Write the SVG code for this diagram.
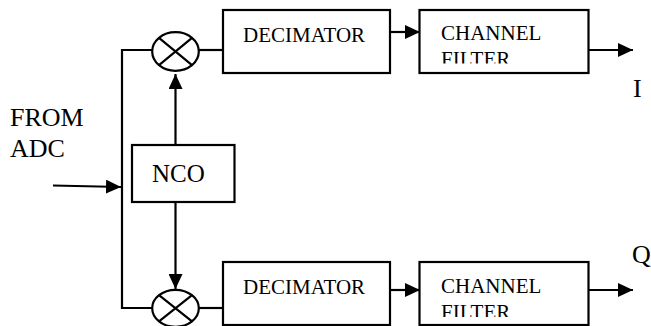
<svg xmlns="http://www.w3.org/2000/svg" width="651" height="326" viewBox="0 0 651 326">
  <style>
    .box { fill: #fff; stroke: #000; stroke-width: 2.2; }
    .wire { fill: none; stroke: #000; stroke-width: 2.2; }
    .mix { fill: #fff; stroke: #000; stroke-width: 2.2; }
    .lbl { fill: #000; }
    .blk { font-size: 21px; }
    .big { font-size: 26px; }
  </style>
  <defs>
    <marker id="arrow" viewBox="0 0 15 14" refX="15" refY="7" markerWidth="15" markerHeight="14" markerUnits="userSpaceOnUse" orient="auto">
      <path d="M0,0 L15,7 L0,14 Z" fill="#000"/>
    </marker>
    <clipPath id="clipTop"><rect x="419" y="10" width="170" height="53.5"/></clipPath>
    <clipPath id="clipBot"><rect x="419" y="262" width="170" height="55"/></clipPath>
  </defs>

  <rect width="651" height="326" fill="#fff"/>

  <!-- connectors -->
  <g id="connectors">
    <!-- input into the splitter bus -->
    <line class="wire" x1="53" y1="185.5" x2="121" y2="187" marker-end="url(#arrow)"/>
    <!-- splitter bus to both mixers -->
    <polyline class="wire" points="152,50 122,50 122,308 152,308"/>
    <!-- mixers to decimators -->
    <line class="wire" x1="198" y1="50" x2="223" y2="50"/>
    <line class="wire" x1="198" y1="308" x2="223" y2="308"/>
    <!-- NCO to mixers -->
    <line class="wire" x1="175.5" y1="145" x2="175.5" y2="74" marker-end="url(#arrow)"/>
    <line class="wire" x1="175.5" y1="202" x2="175.5" y2="289" marker-end="url(#arrow)"/>
    <!-- decimators to channel filters -->
    <line class="wire" x1="390" y1="32" x2="420" y2="32" marker-end="url(#arrow)"/>
    <line class="wire" x1="390" y1="290" x2="420" y2="290" marker-end="url(#arrow)"/>
    <!-- outputs -->
    <line class="wire" x1="588" y1="50" x2="633" y2="50" marker-end="url(#arrow)"/>
    <line class="wire" x1="588" y1="290" x2="633" y2="290" marker-end="url(#arrow)"/>
  </g>

  <g id="mixer-i">
    <ellipse class="mix" cx="175.5" cy="51.5" rx="23.3" ry="19.3"/>
    <path class="wire" d="M159,37.9 L192,65.1 M192,37.9 L159,65.1"/>
  </g>

  <g id="mixer-q">
    <ellipse class="mix" cx="175.5" cy="308.3" rx="23.3" ry="18.5"/>
    <path class="wire" d="M159,295.2 L192,321.4 M192,295.2 L159,321.4"/>
  </g>

  <g font-family="'Liberation Serif', 'Times New Roman', 'DejaVu Serif', serif">
    <g id="nco">
      <rect class="box" x="132" y="145" width="102.5" height="57"/>
      <text class="lbl" x="152" y="182" font-size="25">NCO</text>
    </g>

    <g id="decimator-i">
      <rect class="box" x="223" y="10" width="167" height="63"/>
      <text class="lbl blk" x="243" y="41.5">DECIMATOR</text>
    </g>

    <g id="decimator-q">
      <rect class="box" x="223" y="262" width="167" height="63"/>
      <text class="lbl blk" x="243" y="293.5">DECIMATOR</text>
    </g>

    <g id="channel-filter-i">
      <rect class="box" x="419.5" y="10" width="169" height="63"/>
      <text class="lbl blk" x="441" y="40">CHANNEL</text>
      <text class="lbl blk" x="441" y="66" clip-path="url(#clipTop)">FILTER</text>
    </g>

    <g id="channel-filter-q">
      <rect class="box" x="419.5" y="262" width="169" height="63"/>
      <text class="lbl blk" x="441" y="293">CHANNEL</text>
      <text class="lbl blk" x="441" y="319" clip-path="url(#clipBot)">FILTER</text>
    </g>

    <g id="labels">
      <text class="lbl big" x="10" y="126">FROM</text>
      <text class="lbl big" x="10" y="156.5">ADC</text>
      <text class="lbl big" x="633" y="97">I</text>
      <text class="lbl big" x="632" y="263" font-size="24">Q</text>
    </g>
  </g>
</svg>
